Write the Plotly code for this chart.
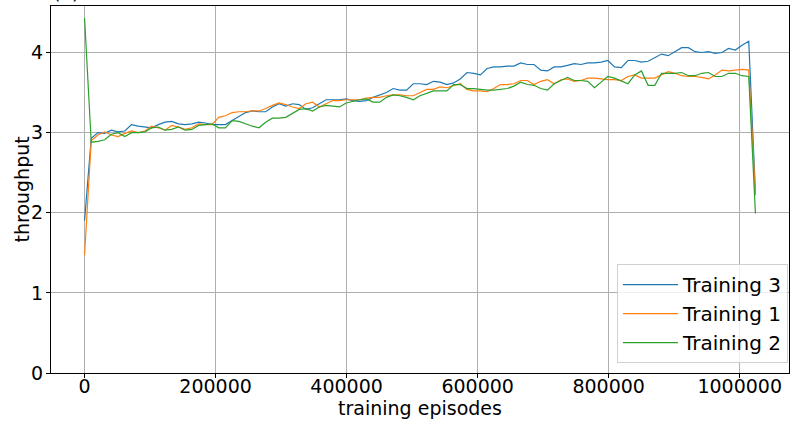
import plotly.graph_objects as go

step = 10240
episodes = [i * step for i in range(101)]

training3 = [1.90,
    2.93, 3.00, 2.99, 3.03, 3.01, 3.02, 3.10, 3.08, 3.07, 3.06, 3.10, 3.13, 3.14, 3.11, 3.10, 3.11, 3.13, 3.12, 3.10, 3.10,
    3.10, 3.15, 3.20, 3.25, 3.27, 3.26, 3.26, 3.32, 3.36, 3.33, 3.36, 3.35, 3.29, 3.31, 3.36, 3.41, 3.41, 3.41, 3.42, 3.40,
    3.39, 3.40, 3.44, 3.47, 3.50, 3.55, 3.53,
    3.53, 3.61, 3.61, 3.60, 3.64, 3.63, 3.60, 3.62, 3.67, 3.75, 3.74, 3.72, 3.80, 3.82, 3.82, 3.83, 3.83, 3.87, 3.85, 3.85,
    3.78, 3.77, 3.82, 3.82, 3.84, 3.86, 3.85, 3.87, 3.87, 3.88, 3.90, 3.82, 3.81, 3.90, 3.90, 3.88, 3.89, 3.94, 3.98, 3.96,
    4.01, 4.06, 4.06, 4.01, 4.00, 4.01, 3.99, 4.00, 4.05, 4.03, 4.09, 4.14,
    2.25]

training1 = [1.47,
    2.90, 2.97, 3.01, 2.97, 2.95, 2.99, 3.02, 3.00, 3.02, 3.08, 3.06, 3.03, 3.09, 3.07, 3.04, 3.06, 3.11, 3.10, 3.10, 3.19,
    3.21, 3.25, 3.26, 3.26, 3.27, 3.27, 3.30, 3.34, 3.37, 3.35, 3.32, 3.30, 3.36, 3.38, 3.32, 3.36, 3.40, 3.40, 3.41, 3.41,
    3.41, 3.43, 3.44, 3.44, 3.46, 3.47, 3.47,
    3.46, 3.46, 3.50, 3.54, 3.54, 3.57, 3.56, 3.59, 3.61, 3.54, 3.52, 3.52, 3.51, 3.55, 3.60, 3.60, 3.61, 3.65, 3.65, 3.60,
    3.64, 3.66, 3.61, 3.66, 3.67, 3.64, 3.65, 3.68, 3.68, 3.67, 3.66, 3.66, 3.65, 3.70, 3.72, 3.68, 3.68, 3.68, 3.72, 3.76,
    3.74, 3.71, 3.70, 3.70, 3.69, 3.67, 3.72, 3.78, 3.77, 3.78, 3.79, 3.78,
    2.22]

training2 = [4.43,
    2.88, 2.89, 2.91, 2.98, 3.00, 2.95, 3.00, 3.00, 3.01, 3.06, 3.07, 3.03, 3.04, 3.07, 3.03, 3.04, 3.09, 3.10, 3.11, 3.06,
    3.06, 3.15, 3.14, 3.11, 3.08, 3.06, 3.13, 3.18, 3.18, 3.19, 3.24, 3.29, 3.30, 3.27, 3.32, 3.34, 3.33, 3.32, 3.37, 3.39,
    3.41, 3.42, 3.38, 3.38, 3.44, 3.47, 3.46,
    3.44, 3.41, 3.46, 3.49, 3.52, 3.52, 3.52, 3.60, 3.60, 3.55, 3.55, 3.54, 3.53, 3.53, 3.54, 3.55, 3.58, 3.63, 3.60, 3.59,
    3.55, 3.53, 3.61, 3.65, 3.69, 3.65, 3.65, 3.64, 3.56, 3.63, 3.70, 3.68, 3.64, 3.61, 3.72, 3.77, 3.59, 3.59, 3.74, 3.74,
    3.74, 3.75, 3.71, 3.71, 3.74, 3.75, 3.70, 3.70, 3.74, 3.74, 3.71, 3.70,
    1.99]

series_names = ["Training 3", "Training 1", "Training 2"]
series_values = [training3, training1, training2]
colors = ["#1f77b4", "#ff7f0e", "#2ca02c"]

x_tick_vals = [0, 200000, 400000, 600000, 800000, 1000000]
x_tick_text = ["0", "200000", "400000", "600000", "800000", "1000000"]
y_tick_vals = [0, 1, 2, 3, 4]

fig = go.Figure()
for name, vals, c in zip(series_names, series_values, colors):
    fig.add_trace(go.Scatter(x=episodes, y=vals, mode="lines", name=name,
                             line=dict(color=c, width=1.2)))

font = dict(family="DejaVu Sans", size=19, color="black")
axis_common = dict(showline=True, linecolor="black", linewidth=1, mirror=True,
                   showgrid=True, gridcolor="#b0b0b0", gridwidth=1,
                   ticks="outside", ticklen=4, tickcolor="black", zeroline=False,
                   tickfont=font, automargin=False)

fig.update_xaxes(range=[-51200, 1075200], tickvals=x_tick_vals, ticktext=x_tick_text,
                 ticklabelstandoff=-8,
                 title=dict(text="training episodes", font=font, standoff=5), **axis_common)
fig.update_yaxes(range=[0, 4.58], tickvals=y_tick_vals, ticklabelstandoff=-1,
                 **axis_common)

# y-axis title placed as a rotated annotation for precise positioning
fig.add_annotation(text="throughput", xref="paper", yref="paper", x=-0.0393, y=0.5,
                   xanchor="center", yanchor="middle", textangle=-90, showarrow=False,
                   font=font)

fig.add_annotation(text="(a)", xref="paper", yref="paper", x=0.0, y=1.0, yshift=1,
                   xanchor="left", yanchor="bottom", showarrow=False,
                   font=dict(family="DejaVu Sans", size=19, color="black"))

fig.update_layout(
    width=791, height=423,
    margin=dict(l=51, r=2, t=6, b=50, autoexpand=False),
    plot_bgcolor="white", paper_bgcolor="white",
    font=font,
    legend=dict(x=0.9986, y=0.027, xanchor="right", yanchor="bottom",
                bgcolor="rgba(255,255,255,0.8)", bordercolor="#d0d0d0", borderwidth=1,
                font=dict(family="DejaVu Sans", size=20, color="black"), itemwidth=55),
)

fig.write_html("out.html", config={"displayModeBar": False},
               post_script="document.body.style.margin='0px';")
